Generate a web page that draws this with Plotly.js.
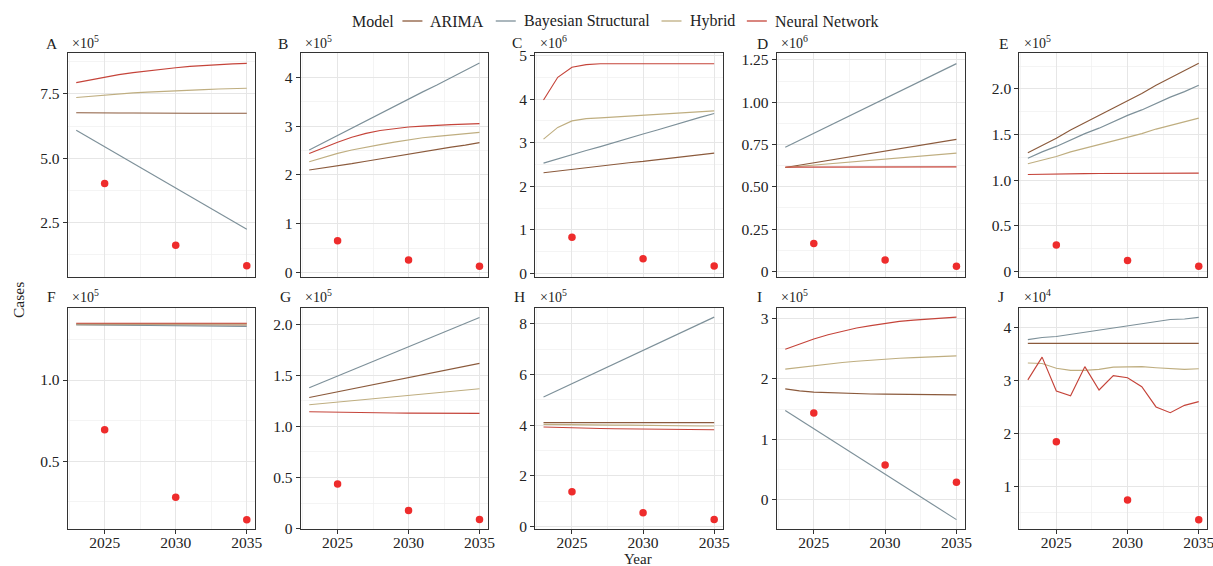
<!DOCTYPE html>
<html>
<head>
<meta charset="utf-8">
<script src="https://cdn.plot.ly/plotly-3.0.1.min.js"></script>
<style>
  html, body { margin: 0; padding: 0; background: #ffffff; }
  #chart { width: 1213px; height: 566px; }
</style>
</head>
<body>
<div id="chart"></div>
<script>
// ---------------- DATA ----------------
const years = [2023, 2024, 2025, 2026, 2027, 2028, 2029, 2030, 2031, 2032, 2033, 2034, 2035];
const targetYears = [2025, 2030, 2035];
const panelLabels = ['A', 'B', 'C', 'D', 'E', 'F', 'G', 'H', 'I', 'J'];
const models = ['ARIMA', 'Bayesian Structural', 'Hybrid', 'Neural Network'];
const legendTitle = 'Model';
// values are in units of 10^exponent (as shown on each panel)
const exponents = [5, 5, 6, 6, 5, 5, 5, 5, 5, 4];

const arimaValues = [
  [6.77, 6.76, 6.76, 6.76, 6.76, 6.75, 6.75, 6.75, 6.75, 6.75, 6.75, 6.75, 6.75],
  [2.10, 2.14, 2.18, 2.23, 2.28, 2.33, 2.38, 2.43, 2.48, 2.52, 2.57, 2.61, 2.66],
  [2.31, 2.35, 2.39, 2.42, 2.46, 2.50, 2.54, 2.57, 2.61, 2.65, 2.69, 2.72, 2.76],
  [0.614, 0.628, 0.642, 0.656, 0.669, 0.683, 0.697, 0.711, 0.725, 0.739, 0.752, 0.766, 0.780],
  [1.30, 1.38, 1.46, 1.55, 1.63, 1.71, 1.79, 1.87, 1.95, 2.04, 2.12, 2.20, 2.28],
  [1.341, 1.341, 1.341, 1.340, 1.340, 1.340, 1.340, 1.340, 1.339, 1.339, 1.339, 1.339, 1.339],
  [1.283, 1.311, 1.339, 1.366, 1.394, 1.422, 1.450, 1.477, 1.505, 1.533, 1.561, 1.588, 1.616],
  [4.10, 4.10, 4.10, 4.10, 4.10, 4.10, 4.10, 4.10, 4.10, 4.10, 4.10, 4.10, 4.10],
  [1.834, 1.80, 1.78, 1.77, 1.76, 1.75, 1.748, 1.746, 1.742, 1.739, 1.737, 1.736, 1.735],
  [3.70, 3.70, 3.70, 3.70, 3.70, 3.70, 3.70, 3.70, 3.70, 3.70, 3.70, 3.70, 3.70]
];
const bayesianValues = [
  [6.09, 5.77, 5.45, 5.13, 4.81, 4.49, 4.17, 3.85, 3.52, 3.20, 2.88, 2.56, 2.24],
  [2.51, 2.66, 2.81, 2.95, 3.10, 3.25, 3.40, 3.55, 3.70, 3.84, 3.99, 4.14, 4.29],
  [2.53, 2.63, 2.72, 2.82, 2.91, 3.01, 3.10, 3.20, 3.29, 3.39, 3.48, 3.58, 3.67],
  [0.734, 0.775, 0.816, 0.858, 0.899, 0.940, 0.981, 1.022, 1.063, 1.105, 1.146, 1.187, 1.228],
  [1.24, 1.31, 1.37, 1.44, 1.51, 1.57, 1.64, 1.71, 1.77, 1.84, 1.91, 1.97, 2.04],
  [1.341, 1.340, 1.339, 1.338, 1.337, 1.336, 1.335, 1.335, 1.334, 1.333, 1.332, 1.331, 1.330],
  [1.378, 1.435, 1.493, 1.550, 1.607, 1.664, 1.722, 1.779, 1.836, 1.893, 1.951, 2.008, 2.065],
  [5.11, 5.37, 5.63, 5.89, 6.16, 6.42, 6.68, 6.95, 7.21, 7.47, 7.74, 8.00, 8.26],
  [1.475, 1.325, 1.174, 1.024, 0.873, 0.723, 0.573, 0.422, 0.272, 0.121, -0.029, -0.179, -0.330],
  [3.77, 3.81, 3.83, 3.87, 3.91, 3.95, 3.99, 4.04, 4.07, 4.11, 4.15, 4.16, 4.19]
];
const hybridValues = [
  [7.36, 7.41, 7.46, 7.50, 7.54, 7.57, 7.60, 7.63, 7.65, 7.67, 7.69, 7.71, 7.72],
  [2.27, 2.36, 2.44, 2.51, 2.57, 2.62, 2.67, 2.72, 2.76, 2.79, 2.82, 2.85, 2.87],
  [3.08, 3.35, 3.50, 3.55, 3.57, 3.59, 3.61, 3.63, 3.65, 3.67, 3.69, 3.71, 3.73],
  [0.614, 0.621, 0.628, 0.635, 0.642, 0.650, 0.657, 0.664, 0.671, 0.678, 0.685, 0.692, 0.699],
  [1.18, 1.22, 1.26, 1.31, 1.35, 1.39, 1.43, 1.47, 1.51, 1.56, 1.60, 1.64, 1.68],
  [1.346, 1.346, 1.346, 1.346, 1.346, 1.346, 1.346, 1.346, 1.346, 1.346, 1.346, 1.346, 1.346],
  [1.212, 1.225, 1.238, 1.251, 1.264, 1.277, 1.290, 1.303, 1.316, 1.329, 1.342, 1.355, 1.368],
  [4.03, 4.02, 4.02, 4.01, 4.01, 4.00, 4.00, 3.99, 3.99, 3.98, 3.98, 3.97, 3.97],
  [2.16, 2.19, 2.22, 2.25, 2.27, 2.29, 2.31, 2.33, 2.34, 2.35, 2.36, 2.37, 2.38],
  [3.33, 3.32, 3.23, 3.19, 3.19, 3.21, 3.25, 3.26, 3.26, 3.24, 3.22, 3.21, 3.22]
];
const neuralValues = [
  [7.94, 8.05, 8.15, 8.25, 8.33, 8.40, 8.46, 8.52, 8.57, 8.61, 8.64, 8.67, 8.69],
  [2.44, 2.56, 2.67, 2.77, 2.85, 2.91, 2.95, 2.98, 3.00, 3.02, 3.03, 3.04, 3.05],
  [3.98, 4.50, 4.73, 4.79, 4.81, 4.81, 4.81, 4.81, 4.81, 4.81, 4.81, 4.81, 4.81],
  [0.616, 0.616, 0.617, 0.617, 0.617, 0.617, 0.618, 0.618, 0.618, 0.618, 0.618, 0.618, 0.618],
  [1.062, 1.066, 1.069, 1.071, 1.072, 1.073, 1.074, 1.075, 1.075, 1.076, 1.076, 1.077, 1.077],
  [1.350, 1.350, 1.350, 1.350, 1.350, 1.350, 1.350, 1.350, 1.350, 1.350, 1.350, 1.350, 1.350],
  [1.143, 1.140, 1.138, 1.136, 1.134, 1.133, 1.131, 1.130, 1.129, 1.128, 1.128, 1.127, 1.127],
  [3.93, 3.91, 3.89, 3.88, 3.87, 3.86, 3.85, 3.84, 3.83, 3.83, 3.82, 3.82, 3.82],
  [2.49, 2.58, 2.66, 2.73, 2.79, 2.84, 2.88, 2.92, 2.95, 2.97, 2.99, 3.01, 3.02],
  [3.01, 3.44, 2.80, 2.71, 3.26, 2.82, 3.09, 3.05, 2.88, 2.50, 2.39, 2.53, 2.60]
];
const targetValues = [
  [4.02, 1.62, 0.82],
  [0.65, 0.26, 0.13],
  [0.83, 0.34, 0.17],
  [0.165, 0.067, 0.031],
  [0.29, 0.12, 0.058],
  [0.693, 0.277, 0.139],
  [0.436, 0.176, 0.088],
  [1.38, 0.55, 0.28],
  [1.436, 0.575, 0.287],
  [1.84, 0.74, 0.37]
];

// ---------------- STYLE / LAYOUT ----------------
const W = 1213, H = 566;
const modelColors = ['#8B5A3C', '#7D9099', '#BFAE80', '#C5443A'];
const targetColor = '#EE2C2C';
const FONT = 'Liberation Serif';
const TEXT = '#222222';

// panel geometry in pixels
const colLeft = [67.7, 300.7, 535, 776.7, 1019.3];
const colRight = [255.3, 488, 722.7, 965, 1207.3];
const rowTop = [53.3, 307.5];
const rowBottom = [276.5, 529.3];
const yRanges = [
  [0.40, 9.08], [-0.08, 4.49], [-0.07, 5.05], [-0.03, 1.289], [-0.055, 2.39],
  [0.08, 1.447], [-0.007, 2.163], [-0.105, 8.64], [-0.49, 3.18], [0.189, 4.377]
];
const yDticks = [2.5, 1, 1, 0.25, 0.5, 0.5, 0.5, 2, 1, 1];
const yDecimals = [1, 0, 0, 2, 1, 1, 1, 0, 0, 0];
const labelPos = [
  [51.7, 43.3], [283.3, 43.3], [516.7, 43], [762.3, 43.3], [1003.3, 43.3],
  [51.7, 296.7], [285, 296.5], [519.3, 296.5], [759.3, 296.5], [1000.7, 296.5]
];

const data = [];
const layout = {
  width: W, height: H,
  margin: { l: 0, r: 0, t: 0, b: 0 },
  paper_bgcolor: '#ffffff',
  plot_bgcolor: '#ffffff',
  font: { family: FONT, size: 15, color: TEXT },
  showlegend: false,
  annotations: [],
  shapes: [],
  hovermode: false
};

const gridColor = '#E6E6E6';
const minorGridColor = '#EFEFEF';

for (let i = 0; i < 10; i++) {
  const k = i + 1;
  const suffix = k === 1 ? '' : String(k);
  const row = Math.floor(i / 5), col = i % 5;
  const xa = 'x' + suffix, ya = 'y' + suffix;

  const seriesSets = [arimaValues[i], bayesianValues[i], hybridValues[i], neuralValues[i]];
  seriesSets.forEach((vals, m) => {
    data.push({
      type: 'scatter', mode: 'lines',
      x: years, y: vals,
      xaxis: xa, yaxis: ya,
      name: models[m], legendgroup: models[m],
      line: { color: modelColors[m], width: 1.15, shape: 'linear' },
      hoverinfo: 'skip'
    });
  });
  data.push({
    type: 'scatter', mode: 'markers',
    x: targetYears, y: targetValues[i],
    xaxis: xa, yaxis: ya,
    name: 'Target',
    marker: { color: targetColor, size: 7.5, line: { width: 0 } },
    hoverinfo: 'skip'
  });

  const yr = yRanges[i], dt = yDticks[i];
  const tickvals = [], ticktext = [];
  for (let v = Math.ceil(yr[0] / dt - 1e-9) * dt; v <= yr[1] + 1e-9; v += dt) {
    const vv = Math.round(v * 1000) / 1000;
    tickvals.push(vv);
    ticktext.push(Math.abs(vv) < 1e-9 ? '0' : vv.toFixed(yDecimals[i]));
  }

  layout['xaxis' + suffix] = {
    domain: [colLeft[col] / W, colRight[col] / W],
    anchor: ya,
    range: [2022.4, 2035.6],
    tickmode: 'linear', tick0: 2025, dtick: 5,
    showticklabels: row === 1,
    ticklabeloverflow: 'allow',
    ticklabelstandoff: -5,
    ticks: row === 1 ? 'outside' : '',
    ticklen: 4, tickwidth: 1, tickcolor: '#333333',
    tickfont: { family: FONT, size: 15.5, color: TEXT },
    showline: true, mirror: true, linecolor: '#333333', linewidth: 1,
    showgrid: true, gridcolor: gridColor, gridwidth: 1,
    minor: { tickmode: 'linear', tick0: 2022.5, dtick: 2.5, showgrid: true, gridcolor: minorGridColor, gridwidth: 0.7, ticks: '' },
    zeroline: false, fixedrange: true
  };
  layout['yaxis' + suffix] = {
    domain: [1 - rowBottom[row] / H, 1 - rowTop[row] / H],
    anchor: xa,
    range: yr,
    tickmode: 'array', tickvals: tickvals, ticktext: ticktext,
    ticks: 'outside', ticklen: 4, tickwidth: 1, tickcolor: '#333333',
    tickfont: { family: FONT, size: 15.5, color: TEXT },
    showline: true, mirror: true, linecolor: '#333333', linewidth: 1,
    showgrid: true, gridcolor: gridColor, gridwidth: 1,
    minor: { tickmode: 'linear', tick0: dt / 2, dtick: dt, showgrid: true, gridcolor: minorGridColor, gridwidth: 0.7, ticks: '' },
    zeroline: false, fixedrange: true
  };

  // panel tag and multiplier
  layout.annotations.push({
    xref: 'paper', yref: 'paper',
    x: labelPos[i][0] / W, y: 1 - labelPos[i][1] / H,
    xanchor: 'center', yanchor: 'middle',
    text: panelLabels[i], showarrow: false,
    font: { family: FONT, size: 15.5, color: TEXT }
  });
  layout.annotations.push({
    xref: 'paper', yref: 'paper',
    x: (colLeft[col] + 2.5) / W, y: 1 - (labelPos[i][1] - 1) / H,
    xanchor: 'left', yanchor: 'middle',
    text: '×10<sup>' + exponents[i] + '</sup>', showarrow: false,
    font: { family: FONT, size: 14, color: TEXT }
  });
}

// axis titles
layout.annotations.push({
  xref: 'paper', yref: 'paper', x: 18 / W, y: 1 - 300 / H,
  xanchor: 'center', yanchor: 'middle', textangle: -90,
  text: 'Cases', showarrow: false, font: { family: FONT, size: 15.5, color: TEXT }
});
layout.annotations.push({
  xref: 'paper', yref: 'paper', x: 637.5 / W, y: 1 - 559 / H,
  xanchor: 'center', yanchor: 'middle', borderpad: 0,
  text: 'Year', showarrow: false, font: { family: FONT, size: 15, color: TEXT }
});

// ---- legend row (title, key lines, labels), laid out like a horizontal ggplot legend ----
(function buildLegend() {
  const ctx = document.createElement('canvas').getContext('2d');
  const legFont = 16;
  ctx.font = legFont + 'px "' + FONT + '"';
  const keyW = 20, keyGap = 6, itemGap = 14, titleGap = 11;
  const titleW = ctx.measureText(legendTitle).width;
  const labelW = models.map(t => ctx.measureText(t).width);
  let total = titleW + titleGap;
  labelW.forEach((w, m) => { total += keyW + keyGap + w + (m < models.length - 1 ? itemGap : 0); });
  const centerX = 613, yMid = 21;
  let x = centerX - total / 2;
  layout.annotations.push({
    xref: 'paper', yref: 'paper', x: x / W, y: 1 - yMid / H,
    xanchor: 'left', yanchor: 'middle', text: legendTitle, showarrow: false,
    font: { family: FONT, size: legFont, color: TEXT }
  });
  x += titleW + titleGap;
  models.forEach((name, m) => {
    layout.shapes.push({
      type: 'line', xref: 'paper', yref: 'paper',
      x0: x / W, x1: (x + keyW) / W, y0: 1 - yMid / H, y1: 1 - yMid / H,
      line: { color: modelColors[m], width: 1.3 }
    });
    x += keyW + keyGap;
    layout.annotations.push({
      xref: 'paper', yref: 'paper', x: x / W, y: 1 - yMid / H,
      xanchor: 'left', yanchor: 'middle', text: name, showarrow: false,
      font: { family: FONT, size: legFont, color: TEXT }
    });
    x += labelW[m] + itemGap;
  });
})();

Plotly.newPlot('chart', data, layout, { staticPlot: true, displayModeBar: false });
</script>
</body>
</html>
